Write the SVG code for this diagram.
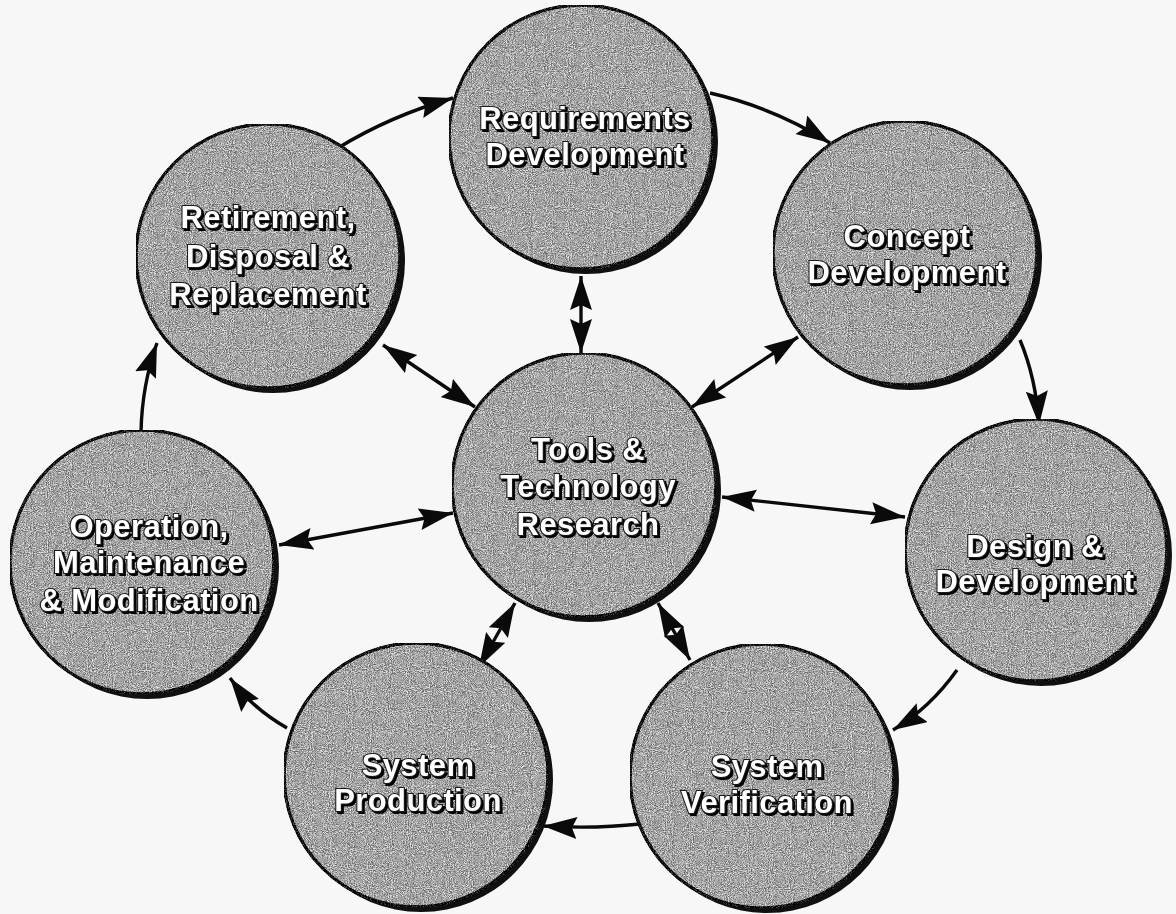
<svg xmlns="http://www.w3.org/2000/svg" width="1176" height="914" viewBox="0 0 1176 914">
  <defs>
    <style>
      .disc { fill: #a6a6a6; stroke: #101010; stroke-width: 3.4; }
      .shade { fill: #101010; }
      .label { font-family: "Liberation Sans", Arial, sans-serif; font-weight: bold; font-size: 31px; letter-spacing: 0.4px;
               fill: #ffffff; stroke: #1a1a1a; stroke-width: 2.2; paint-order: stroke; text-anchor: middle; }
      .link { fill: none; stroke: #0a0a0a; stroke-width: 3.4; }
      .one { marker-end: url(#head); }
      .two { marker-start: url(#head); marker-end: url(#head); }
    </style>
    <!-- grainy halftone-like fill for the discs -->
    <filter id="grain" x="0" y="0" width="100%" height="100%" color-interpolation-filters="sRGB">
      <feTurbulence type="fractalNoise" baseFrequency="0.95" numOctaves="3" seed="11" result="noise"/>
      <feColorMatrix in="noise" type="matrix"
        values="0.33 0.33 0.33 0 0  0.33 0.33 0.33 0 0  0.33 0.33 0.33 0 0  0 0 0 0 1" result="gray"/>
      <feComponentTransfer in="gray" result="contrast">
        <feFuncR type="linear" slope="3.6" intercept="-1.3"/>
        <feFuncG type="linear" slope="3.6" intercept="-1.3"/>
        <feFuncB type="linear" slope="3.6" intercept="-1.3"/>
      </feComponentTransfer>
      <feComposite in="SourceGraphic" in2="contrast" operator="arithmetic" k1="0" k2="1" k3="0.5" k4="-0.25" result="mix"/>
      <feComposite in="mix" in2="SourceGraphic" operator="in"/>
    </filter>
    <filter id="emboss" x="-5%" y="-10%" width="110%" height="130%">
      <feDropShadow dx="2" dy="2" stdDeviation="0" flood-color="#000000" flood-opacity="1"/>
    </filter>
    <marker id="head" markerUnits="userSpaceOnUse" markerWidth="36" markerHeight="24"
            refX="34" refY="11" orient="auto-start-reverse" viewBox="0 0 36 24">
      <path d="M0,0 L34,11 L0,22 L5,11 z" fill="#0a0a0a"/>
    </marker>
  </defs>

  <rect width="1176" height="914" fill="#f7f7f7"/>

  <!-- connectors -->
  <g id="connectors">
    <!-- outer lifecycle ring, clockwise -->
    <path class="link one" d="M338,148 Q390,116 453,98"/>
    <path class="link one" d="M710,93 Q775,108 830,143"/>
    <path class="link one" d="M1020,340 Q1036,378 1039,425"/>
    <path class="link one" d="M957,670 Q930,708 893,730"/>
    <path class="link one" d="M640,824 Q595,829 543,826"/>
    <path class="link one" d="M287,728 Q252,708 230,678"/>
    <path class="link one" d="M141,432 Q142,385 157,343"/>
    <!-- spokes to the hub -->
    <path class="link two" d="M581,276 L581,353"/>
    <path class="link two" d="M383,345 L475,407"/>
    <path class="link two" d="M798,337 L692,407"/>
    <path class="link two" d="M722,497 L905,517"/>
    <path class="link two" d="M453,513 L279,545"/>
    <path class="link two" d="M515,603 L479,667"/>
    <path class="link two" d="M658,603 L690,660"/>
  </g>

  <g id="node-requirements">
    <circle class="shade" cx="586" cy="142" r="132"/>
    <circle class="disc" cx="581" cy="137" r="132" filter="url(#grain)"/>
    <g filter="url(#emboss)">
      <text class="label" x="585" y="129">Requirements</text>
      <text class="label" x="585" y="165">Development</text>
    </g>
  </g>

  <g id="node-concept">
    <circle class="shade" cx="910" cy="258" r="132"/>
    <circle class="disc" cx="905" cy="253" r="132" filter="url(#grain)"/>
    <g filter="url(#emboss)">
      <text class="label" x="907" y="247">Concept</text>
      <text class="label" x="907" y="283">Development</text>
    </g>
  </g>

  <g id="node-design">
    <circle class="shade" cx="1041" cy="555" r="131"/>
    <circle class="disc" cx="1036" cy="550" r="131" filter="url(#grain)"/>
    <g filter="url(#emboss)">
      <text class="label" x="1035" y="557">Design &amp;</text>
      <text class="label" x="1035" y="592">Development</text>
    </g>
  </g>

  <g id="node-verification">
    <circle class="shade" cx="767" cy="781" r="132"/>
    <circle class="disc" cx="762" cy="776" r="132" filter="url(#grain)"/>
    <g filter="url(#emboss)">
      <text class="label" x="767" y="777">System</text>
      <text class="label" x="767" y="813">Verification</text>
    </g>
  </g>

  <g id="node-production">
    <circle class="shade" cx="421" cy="780" r="132"/>
    <circle class="disc" cx="416" cy="775" r="132" filter="url(#grain)"/>
    <g filter="url(#emboss)">
      <text class="label" x="418" y="776">System</text>
      <text class="label" x="418" y="811">Production</text>
    </g>
  </g>

  <g id="node-operation">
    <circle class="shade" cx="147" cy="567" r="132"/>
    <circle class="disc" cx="142" cy="562" r="132" filter="url(#grain)"/>
    <g filter="url(#emboss)">
      <text class="label" x="149" y="537">Operation,</text>
      <text class="label" x="149" y="573">Maintenance</text>
      <text class="label" x="149" y="611">&amp; Modification</text>
    </g>
  </g>

  <g id="node-retirement">
    <circle class="shade" cx="273" cy="261" r="132"/>
    <circle class="disc" cx="268" cy="256" r="132" filter="url(#grain)"/>
    <g filter="url(#emboss)">
      <text class="label" x="268" y="228">Retirement,</text>
      <text class="label" x="268" y="267">Disposal &amp;</text>
      <text class="label" x="268" y="305">Replacement</text>
    </g>
  </g>

  <g id="node-tools">
    <circle class="shade" cx="589" cy="490" r="132"/>
    <circle class="disc" cx="584" cy="485" r="132" filter="url(#grain)"/>
    <g filter="url(#emboss)">
      <text class="label" x="588" y="460">Tools &amp;</text>
      <text class="label" x="588" y="497">Technology</text>
      <text class="label" x="588" y="535">Research</text>
    </g>
  </g>
</svg>
